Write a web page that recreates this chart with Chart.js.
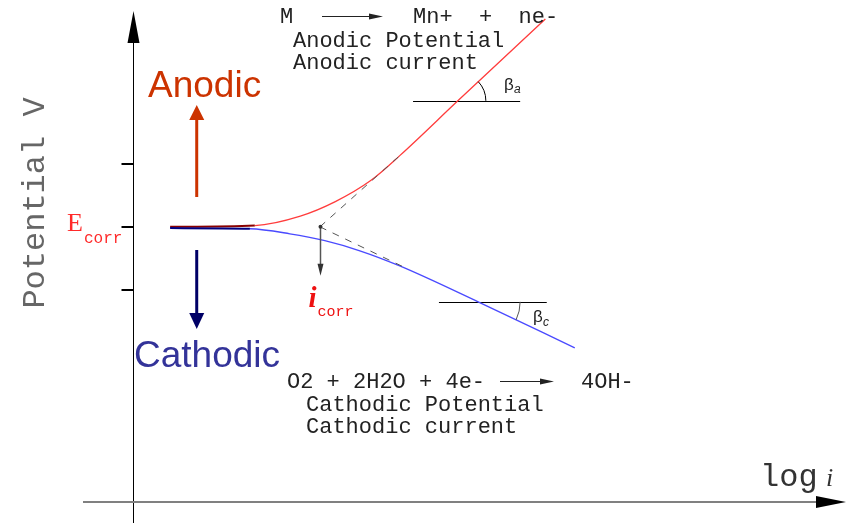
<!DOCTYPE html>
<html>
<head>
<meta charset="utf-8">
<title>Tafel plot</title>
<script src="https://cdn.jsdelivr.net/npm/chart.js@4"></script>
<style>
  body { margin: 0; background: #fff; }
  canvas { display: block; }
</style>
</head>
<body>
<canvas id="tafel" width="852" height="523"></canvas>
<script>
// log i (arbitrary units) and potential (units of one tick) for each branch
const anodicLogI = [0.53, 1.74, 2.39, 2.89, 3.39, 3.81, 4.64, 5.89];
const anodicE = [0, 0.02, 0.17, 0.40, 0.73, 1.13, 2.00, 3.30];
const cathodicLogI = [0.53, 1.67, 2.24, 2.74, 3.24, 3.81, 4.93, 6.31];
const cathodicE = [-0.02, -0.03, -0.11, -0.22, -0.38, -0.62, -1.19, -1.92];

// Tafel extrapolations meet at (iCorr, eCorr)
const eCorr = 0;
const iCorr = 2.67;
const anodicTafelEnd = [3.85, 1.17];
const cathodicTafelEnd = [3.89, -0.65];

// reference lines for the Tafel slopes
const betaA = { e: 2.00, from: 4.00, to: 5.53, at: 4.64 };
const betaC = { e: -1.19, from: 4.37, to: 5.91, at: 4.93 };

const potentialTicks = [1, 0, -1];
const axisE = -4.37;

const pts = (xs, ys) => xs.map((v, i) => ({ x: v, y: ys[i] }));

function arrowHead(ctx, x, y, dir, len, half) {
  // dir: 'up' | 'down' | 'right'
  ctx.beginPath();
  if (dir === 'up') { ctx.moveTo(x, y); ctx.lineTo(x - half, y + len); ctx.lineTo(x + half, y + len); }
  if (dir === 'down') { ctx.moveTo(x, y); ctx.lineTo(x - half, y - len); ctx.lineTo(x + half, y - len); }
  if (dir === 'right') { ctx.moveTo(x, y); ctx.lineTo(x - len, y - half); ctx.lineTo(x - len, y + half); }
  ctx.closePath();
  ctx.fill();
}

function line(ctx, x1, y1, x2, y2) {
  ctx.beginPath();
  ctx.moveTo(x1, y1);
  ctx.lineTo(x2, y2);
  ctx.stroke();
}

const diagram = {
  id: 'tafelDiagram',
  beforeDatasetsDraw(chart) {
    const { ctx, scales: { x, y } } = chart;
    const ox = Math.round(x.getPixelForValue(0)) + 0.5;
    const oy = Math.round(y.getPixelForValue(axisE));
    ctx.save();

    // potential axis
    ctx.strokeStyle = '#000';
    ctx.fillStyle = '#000';
    ctx.lineWidth = 1;
    line(ctx, ox, 30, ox, 523);
    arrowHead(ctx, ox, 11, 'up', 32, 6);

    // log i axis
    ctx.strokeStyle = '#808080';
    ctx.lineWidth = 2;
    line(ctx, 83, oy, 825, oy);
    ctx.fillStyle = '#000';
    arrowHead(ctx, 846, oy, 'right', 30, 6);

    // ticks
    ctx.strokeStyle = '#000';
    ctx.lineWidth = 2;
    potentialTicks.forEach(v => {
      const py = Math.round(y.getPixelForValue(v));
      line(ctx, ox - 12, py, ox, py);
    });

    // Tafel slope reference lines
    ctx.lineWidth = 1;
    [betaA, betaC].forEach(b => {
      const py = Math.round(y.getPixelForValue(b.e)) + 0.5;
      line(ctx, x.getPixelForValue(b.from), py, x.getPixelForValue(b.to), py);
    });
    ctx.restore();
  },
  afterDatasetsDraw(chart) {
    const { ctx, scales: { x, y } } = chart;
    ctx.save();

    // slope angle arcs
    ctx.strokeStyle = '#000';
    ctx.lineWidth = 1;
    const ca = { x: x.getPixelForValue(betaA.at), y: y.getPixelForValue(betaA.e) };
    const angA = Math.atan2(y.getPixelForValue(anodicE[7]) - y.getPixelForValue(anodicE[6]),
      x.getPixelForValue(anodicLogI[7]) - x.getPixelForValue(anodicLogI[6]));
    ctx.beginPath();
    ctx.arc(ca.x, ca.y, 28, angA, 0);
    ctx.stroke();
    const cc = { x: x.getPixelForValue(betaC.at), y: y.getPixelForValue(betaC.e) };
    const angC = Math.atan2(y.getPixelForValue(cathodicE[7]) - y.getPixelForValue(cathodicE[6]),
      x.getPixelForValue(cathodicLogI[7]) - x.getPixelForValue(cathodicLogI[6]));
    ctx.strokeStyle = '#555';
    ctx.beginPath();
    ctx.arc(cc.x, cc.y, 42, 0, angC);
    ctx.stroke();

    // i corr drop line
    const ix = Math.round(x.getPixelForValue(iCorr)) + 0.5;
    const iy = y.getPixelForValue(eCorr);
    ctx.strokeStyle = '#555';
    ctx.fillStyle = '#333';
    ctx.lineWidth = 1.5;
    line(ctx, ix, iy, ix, iy + 40);
    arrowHead(ctx, ix, iy + 49, 'down', 12, 3);
    ctx.beginPath();
    ctx.arc(ix, iy, 2, 0, Math.PI * 2);
    ctx.fill();

    // direction arrows
    const ax = x.getPixelForValue(0.91);
    ctx.strokeStyle = '#cc3300';
    ctx.fillStyle = '#cc3300';
    ctx.lineWidth = 3;
    line(ctx, ax, 197, ax, 118);
    arrowHead(ctx, ax, 105, 'up', 15, 7.5);
    ctx.strokeStyle = '#000066';
    ctx.fillStyle = '#000066';
    line(ctx, ax, 250, ax, 315);
    arrowHead(ctx, ax, 329, 'down', 16, 7.5);

    ctx.font = '37px "Liberation Sans", Arial, sans-serif';
    ctx.fillStyle = '#cc3300';
    ctx.fillText('Anodic', 148, 97);
    ctx.fillStyle = '#333399';
    ctx.fillText('Cathodic', 134, 367);

    // E corr and i corr labels
    const ey = y.getPixelForValue(eCorr);
    ctx.fillStyle = '#ff2a2a';
    ctx.font = '26px "Liberation Serif", serif';
    ctx.fillText('E', 67, ey + 4);
    ctx.font = '16px "Liberation Mono", monospace';
    ctx.fillText('corr', 84, ey + 16);
    ctx.fillStyle = '#ee1111';
    ctx.font = 'italic bold 29px "Liberation Serif", serif';
    ctx.fillText('i', ix - 12, 307);
    ctx.font = '15px "Liberation Mono", monospace';
    ctx.fillText('corr', ix - 3, 316);

    // reactions
    ctx.fillStyle = '#222';
    ctx.strokeStyle = '#222';
    ctx.lineWidth = 1;
    ctx.font = '22px "Liberation Mono", monospace';
    ctx.fillText('M', 280, 23);
    ctx.fillText('Mn+  +  ne-', 413, 23);
    line(ctx, 322, 16.5, 372, 16.5);
    arrowHead(ctx, 383, 16.5, 'right', 14, 3);
    ctx.fillText('Anodic Potential', 293, 47);
    ctx.fillText('Anodic current', 293, 69);

    ctx.fillText('O2 + 2H2O + 4e-', 287, 388);
    line(ctx, 500, 381.5, 542, 381.5);
    arrowHead(ctx, 554, 381.5, 'right', 14, 3);
    ctx.fillText('4OH-', 581, 388);
    ctx.fillText('Cathodic Potential', 306, 411);
    ctx.fillText('Cathodic current', 306, 433);

    // beta labels
    ctx.fillStyle = '#222';
    ctx.font = '17px "Liberation Sans", sans-serif';
    ctx.fillText('\u03b2', 504, 90);
    ctx.fillText('\u03b2', 533, 322);
    ctx.font = 'italic 12px "Liberation Sans", sans-serif';
    ctx.fillText('a', 514, 93);
    ctx.fillText('c', 543, 326);

    // axis titles
    ctx.fillStyle = '#666';
    ctx.font = '32px "Liberation Mono", monospace';
    ctx.save();
    ctx.translate(44, 203);
    ctx.rotate(-Math.PI / 2);
    ctx.textAlign = 'center';
    ctx.fillText('Potential V', 0, 0);
    ctx.restore();
    ctx.fillStyle = '#333';
    ctx.fillText('log', 760, 486);
    ctx.font = 'italic 26px "Liberation Serif", serif';
    ctx.fillText('i', 826, 486);

    ctx.restore();
  }
};

new Chart(document.getElementById('tafel'), {
  type: 'scatter',
  data: {
    datasets: [
      {
        label: 'Anodic tafel',
        data: [{ x: iCorr, y: eCorr }, { x: anodicTafelEnd[0], y: anodicTafelEnd[1] }],
        showLine: true,
        borderColor: '#555',
        borderWidth: 1,
        borderDash: [7, 7],
        pointRadius: 0
      },
      {
        label: 'Cathodic tafel',
        data: [{ x: iCorr, y: eCorr }, { x: cathodicTafelEnd[0], y: cathodicTafelEnd[1] }],
        showLine: true,
        borderColor: '#555',
        borderWidth: 1,
        borderDash: [7, 7],
        pointRadius: 0
      },
      {
        label: 'Cathodic',
        data: pts(cathodicLogI, cathodicE),
        showLine: true,
        cubicInterpolationMode: 'monotone',
        borderColor: '#4a4aff',
        borderWidth: 1.3,
        segment: {
          borderColor: c => c.p0DataIndex === 0 ? '#000080' : undefined,
          borderWidth: c => c.p0DataIndex === 0 ? 2 : undefined
        },
        pointRadius: 0
      },
      {
        label: 'Anodic',
        data: pts(anodicLogI, anodicE),
        showLine: true,
        cubicInterpolationMode: 'monotone',
        borderColor: '#ff3c3c',
        borderWidth: 1.3,
        segment: {
          borderColor: c => c.p0DataIndex === 0 ? '#880000' : undefined,
          borderWidth: c => c.p0DataIndex === 0 ? 2 : undefined
        },
        pointRadius: 0
      }
    ]
  },
  options: {
    responsive: false,
    animation: false,
    layout: { padding: 0 },
    plugins: { legend: { display: false }, tooltip: { enabled: false } },
    scales: {
      x: { type: 'linear', min: -1.9, max: 10.27, display: false },
      y: { type: 'linear', min: -4.70, max: 3.60, display: false }
    }
  },
  plugins: [diagram]
});
</script>
</body>
</html>
